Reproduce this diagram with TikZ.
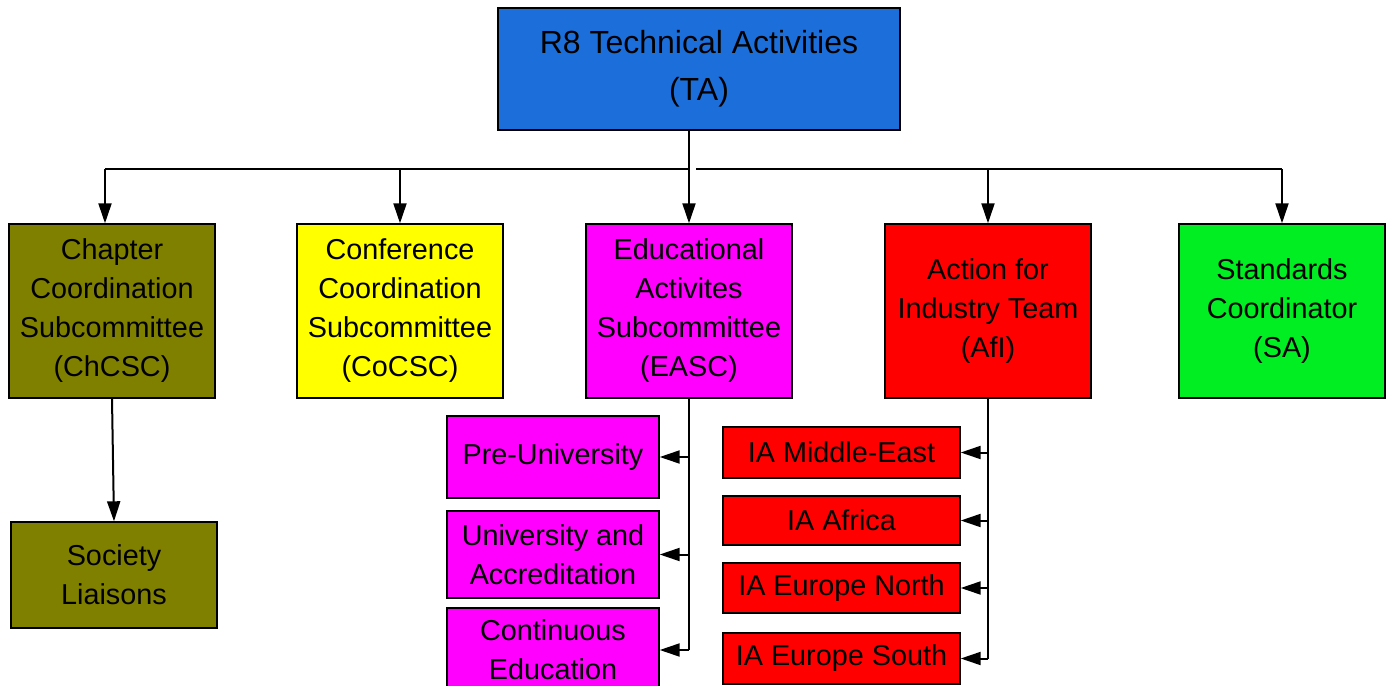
\documentclass[tikz,border=0pt]{standalone}
\usepackage{fontspec}
\setmainfont{Liberation Sans}
\usetikzlibrary{arrows.meta}
\definecolor{tablue}{RGB}{28,111,218}
\definecolor{olivebox}{RGB}{128,128,0}
\definecolor{yellowbox}{RGB}{255,255,0}
\definecolor{magbox}{RGB}{255,0,255}
\definecolor{redbox}{RGB}{255,0,0}
\definecolor{greenbox}{RGB}{0,238,34}
\tikzset{
  box/.style={draw=black, line width=0.7pt, inner sep=0pt, align=center,
    font=\fontsize{14.4}{19.5}\selectfont},
  lvl/.style={box, minimum width=103pt, minimum height=87pt},
  sub/.style={box, minimum width=106pt},
  ia/.style={box, fill=redbox, minimum width=118.5pt},
  conn/.style={line width=1pt, draw=black},
  arr/.style={conn, -{Triangle[length=10pt,width=6.5pt]}}
}
\begin{document}
\begin{tikzpicture}[x=0.5pt,y=-0.5pt]
\useasboundingbox (0,0) rectangle (1389,686);
\clip (0,0) rectangle (1389,686);
\node[box, fill=tablue, minimum width=201pt, minimum height=61pt,
  font=\fontsize{16}{23.5}\selectfont] (ta) at (699,69) {R8 Technical Activities\\(TA)};
\node[lvl, fill=olivebox] (ch) at (112,311) {Chapter\\Coordination\\Subcommittee\\(ChCSC)};
\node[lvl, fill=yellowbox] (co) at (400,311) {Conference\\Coordination\\Subcommittee\\(CoCSC)};
\node[lvl, fill=magbox] (ea) at (689,311) {Educational\\Activites\\Subcommittee\\(EASC)};
\node[lvl, fill=redbox] (afi) at (988,311) {Action for\\Industry Team\\(AfI)};
\node[lvl, fill=greenbox] (sa) at (1282,311) {Standards\\Coordinator\\(SA)};
\node[box, fill=olivebox, minimum width=103pt, minimum height=53pt] (sl) at (114,575) {Society\\Liaisons};
\node[sub, fill=magbox, minimum height=41pt] (pu) at (553,457) {Pre-University};
\node[sub, fill=magbox, minimum height=43.5pt] (ua) at (553,554.5) {University and\\Accreditation};
\node[sub, fill=magbox, minimum height=42pt] (ce) at (553,650) {Continuous\\Education};
\node[ia, minimum height=25.5pt] (me) at (841.5,452.5) {IA Middle-East};
\node[ia, minimum height=24.5pt] (af) at (841.5,520.5) {IA Africa};
\node[ia, minimum height=25pt] (en) at (841.5,588) {IA Europe North};
\node[ia, minimum height=25.5pt] (es) at (841.5,658.5) {IA Europe South};
\coordinate (bus) at (0,169);
\coordinate (chdrop) at ([xshift=-3.5pt]ch.north);
% top stem and bus
\draw[arr] (ta.south -| ea.north) -- (ea.north);
\draw[conn] (chdrop |- bus) -- (ea.north |- bus);
\draw[conn] ([xshift=3.5pt]ea.north |- bus) -- (sa.north |- bus);
\draw[arr] (chdrop |- bus) -- (chdrop);
\draw[arr] (co.north |- bus) -- (co.north);
\draw[arr] (afi.north |- bus) -- (afi.north);
\draw[arr] (sa.north |- bus) -- (sa.north);
% chapter
\draw[arr] (ch.south) -- (sl.north);
% EASC
\draw[conn] (ea.south) -- (ea.south |- ce.east);
\draw[arr] (ea.south |- pu.east) -- (pu.east);
\draw[arr] (ea.south |- ua.east) -- (ua.east);
\draw[arr] (ea.south |- ce.east) -- (ce.east);
% AfI
\draw[conn] (afi.south) -- (afi.south |- es.east);
\draw[arr] (afi.south |- me.east) -- (me.east);
\draw[arr] (afi.south |- af.east) -- (af.east);
\draw[arr] (afi.south |- en.east) -- (en.east);
\draw[arr] (afi.south |- es.east) -- (es.east);
\end{tikzpicture}
\end{document}
